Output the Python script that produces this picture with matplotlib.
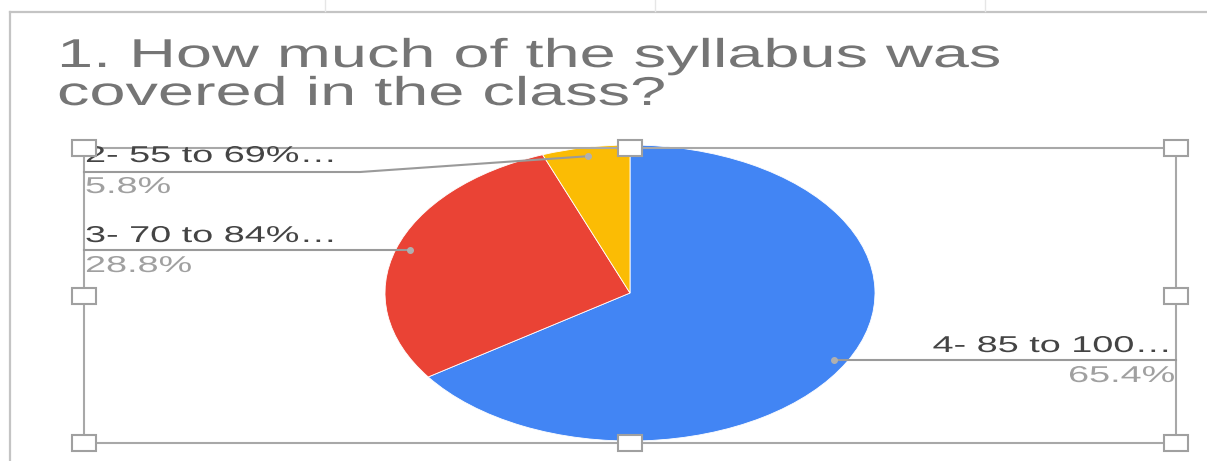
import matplotlib
matplotlib.use("Agg")
import numpy as np
import matplotlib.pyplot as plt
import matplotlib.patheffects as pe
from matplotlib.patches import Rectangle
from matplotlib.transforms import Affine2D

# datos del grafico (orden en sentido horario desde las 12)
categorias = ["4- 85 to 100\u2026", "3- 70 to 84%\u2026", "2- 55 to 69%\u2026"]
porcentajes = [65.4, 28.8, 5.8]
colores = ["#4285F4", "#EA4335", "#FBBC04"]
titulo = ["1. How much of the syllabus was", "covered in the class?"]

W, H = 1207, 461
FAMILIA = ["Liberation Sans", "DejaVu Sans"]


class Estirar(pe.AbstractPathEffect):
    """Estira el texto en horizontal (la captura original esta estirada)"""
    def __init__(self, sx, x0):
        super().__init__()
        self.sx = sx
        self.x0 = x0

    def draw_path(self, renderer, gc, tpath, affine, rgbFace=None):
        t = affine + Affine2D().translate(-self.x0, 0).scale(self.sx, 1).translate(self.x0, 0)
        renderer.draw_path(gc, tpath, t, rgbFace)


fig = plt.figure(figsize=(W / 100, H / 100), dpi=100)

# tarta (elipse: centro 630,293 ; radios 245 x 148 px)
cx, cy, rx, ry = 630, 293, 245, 148
ax_pie = fig.add_axes([(cx - rx) / W, (H - cy - ry) / H, 2 * rx / W, 2 * ry / H])
wedges, _ = ax_pie.pie(porcentajes, colors=colores, startangle=90, counterclock=False,
                       wedgeprops=dict(edgecolor="white", linewidth=0.6))
ax_pie.set_aspect("auto")
ax_pie.set_xlim(-1, 1)
ax_pie.set_ylim(-1, 1)
ax_pie.axis("off")

# capa superior en pixeles
ax = fig.add_axes([0, 0, 1, 1], zorder=5)
ax.set_xlim(0, W)
ax.set_ylim(H, 0)
ax.axis("off")
ax.patch.set_visible(False)

# marco exterior de la hoja
ax.plot([10, W], [12, 12], color="#c4c4c4", lw=1.6)
ax.plot([10, 10], [12, H], color="#c4c4c4", lw=1.6)
for xt in [325, 655, 985]:
    ax.plot([xt, xt], [0, 11], color="#e6e6e6", lw=1)

# titulo
for linea, yb in zip(titulo, [67, 105]):
    ax.text(57, yb, linea, fontsize=29, color="#757575", family=FAMILIA,
            ha="left", va="baseline", path_effects=[Estirar(1.61, 57)])

# rectangulo de seleccion con tiradores
L, R, T, B = 84, 1176, 148, 443
ax.add_patch(Rectangle((L, T), R - L, B - T, fill=False, edgecolor="#a8a8a8", lw=1.5, zorder=2))

# etiquetas con lineas guia
gris_linea = "#9a9a9a"
pos_etiquetas = {
    # x texto, base nombre, base %, y linea, alineacion, x extremo linea, x quiebre
    0: (1172, 352, 382, 360, "right", R, None),
    1: (85, 242, 272, 250, "left", L, None),
    2: (85, 162, 193, 172, "left", L, 360),
}
to_px = ax.transData.inverted()
for i, w in enumerate(wedges):
    ang = np.deg2rad((w.theta1 + w.theta2) / 2)
    punto = ax_pie.transData.transform((0.94 * np.cos(ang), 0.94 * np.sin(ang)))
    px, py = to_px.transform(punto)
    xt, yb1, yb2, yl, ha, xend, xq = pos_etiquetas[i]
    if xq is None:
        ax.plot([px, xend], [yl, yl], color=gris_linea, lw=1.5, zorder=3)
    else:
        ax.plot([px, xq, xend], [py, yl, yl], color=gris_linea, lw=1.5, zorder=3)
    ax.plot(px, py if xq else yl, "o", color="#b0b0b0", ms=4, zorder=3)
    ax.text(xt, yb1, categorias[i], fontsize=16.5, color="#444444", family=FAMILIA,
            ha=ha, va="baseline", path_effects=[Estirar(1.65, xt)], zorder=4)
    ax.text(xt + (2 if ha == "right" else 0), yb2, f"{porcentajes[i]:.1f}%", fontsize=16.5,
            color="#a0a0a0", family=FAMILIA, ha=ha, va="baseline",
            path_effects=[Estirar(1.65, xt)], zorder=4)

for hx in [L, (L + R) / 2, R]:
    for hy in [T, (T + B) / 2, B]:
        if hx == (L + R) / 2 and hy == (T + B) / 2:
            continue
        ax.add_patch(Rectangle((hx - 12, hy - 8), 24, 16, facecolor="white",
                               edgecolor="#a0a0a0", lw=1.5, zorder=6))

fig.savefig("out.png", dpi=100)
